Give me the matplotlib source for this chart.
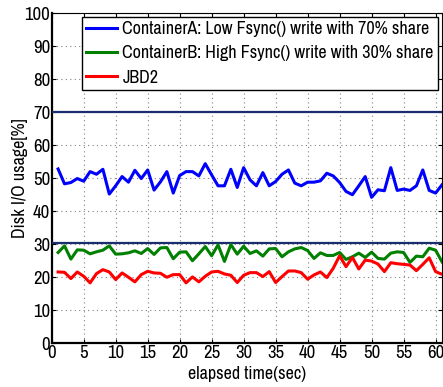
import matplotlib
matplotlib.use("Agg")
import matplotlib.pyplot as plt

# per-second disk I/O share for the two containers and the journaling thread
seconds = list(range(1, 62))
container_a = [
    52.8, 48.3, 48.7, 49.9, 49.1, 52.0, 51.2, 52.7, 45.2, 47.7,
    50.5, 48.8, 52.4, 49.9, 52.5, 46.4, 48.9, 52.0, 45.5, 50.8,
    52.0, 52.0, 50.7, 54.4, 51.0, 47.7, 47.7, 52.7, 47.2, 53.2,
    49.5, 47.7, 51.7, 47.7, 49.0, 51.2, 52.5, 48.5, 47.7, 48.8,
    48.8, 49.2, 51.5, 50.7, 48.7, 46.0, 45.0, 47.7, 50.5, 44.2,
    46.5, 46.2, 53.2, 46.3, 46.7, 46.3, 47.7, 52.5, 46.3, 45.5,
    48.0,
]
container_b = [
    27.5, 29.5, 25.5, 28.3, 28.2, 27.1, 27.7, 28.2, 29.5, 27.0,
    27.1, 27.4, 28.0, 27.2, 28.7, 26.9, 28.9, 29.0, 25.6, 27.6,
    27.7, 25.0, 27.1, 29.3, 26.5, 29.8, 24.8, 29.9, 27.0, 29.4,
    27.2, 28.0, 26.4, 28.6, 28.7, 26.2, 27.7, 28.6, 29.0, 28.1,
    25.7, 27.4, 26.6, 26.6, 27.5, 25.4, 26.2, 27.3, 26.0, 27.6,
    25.7, 25.5, 27.3, 27.7, 27.5, 24.5, 26.4, 26.2, 28.8, 28.2,
    24.7,
]
jbd2 = [
    21.6, 21.5, 19.6, 21.6, 20.3, 18.3, 21.1, 22.3, 21.6, 19.3,
    21.3, 20.0, 18.6, 20.8, 21.8, 21.3, 21.2, 20.0, 20.8, 20.8,
    18.3, 20.1, 18.6, 20.3, 21.6, 21.8, 21.0, 20.6, 18.4, 20.6,
    21.4, 21.4, 20.2, 21.7, 18.4, 20.2, 21.9, 21.9, 21.4, 19.4,
    20.7, 21.6, 19.9, 22.7, 26.5, 23.2, 26.0, 22.5, 25.2, 24.9,
    24.0, 21.7, 24.4, 24.1, 23.9, 23.7, 22.0, 23.9, 25.9, 21.7,
    20.9,
]
share_levels = [70.2, 30.4]

labels = [
    "ContainerA: Low Fsync() write with 70% share",
    "ContainerB: High Fsync() write with 30% share",
    "JBD2",
]
colors = ["#0000ff", "#008000", "#ff0000"]

plt.rcParams["font.family"] = ["Archivo Narrow", "Liberation Sans", "DejaVu Sans"]

fig = plt.figure(figsize=(4.43, 3.87), dpi=100)
ax = fig.add_axes([0.1167, 0.113, 0.881, 0.853])

for y in share_levels:
    ax.axhline(y, color="#1a2d6e", linewidth=1.6, zorder=3)

for series, label, color in zip([container_a, container_b, jbd2], labels, colors):
    ax.plot(seconds, series, color=color, linewidth=2.2, label=label, zorder=4)

ax.set_xlim(0, 61)
ax.set_ylim(0, 100)
ax.set_xticks(range(0, 61, 5))
ax.set_yticks(range(0, 101, 10))
ax.grid(True, color="#808080", linestyle=(0, (1, 3)), linewidth=0.8)
ax.tick_params(direction="in", top=True, right=True, length=3, labelsize=13.5, pad=1)
for side in ["left", "bottom"]:
    ax.spines[side].set_linewidth(1.6)
for side in ["top", "right"]:
    ax.spines[side].set_linewidth(0.8)

ax.set_xlabel("elapsed time(sec)", fontsize=13, labelpad=4)
ax.set_ylabel("Disk I/O usage[%]", fontsize=13)
ax.yaxis.set_label_coords(-0.062, 0.5)

leg = ax.legend(loc="upper right", fontsize=13, handlelength=1.7, handletextpad=0.3,
                borderpad=0.25, labelspacing=0.45, fancybox=False, framealpha=1,
                edgecolor="black", borderaxespad=0.2)
leg.get_frame().set_linewidth(1.0)

fig.savefig("out.png", dpi=100)
